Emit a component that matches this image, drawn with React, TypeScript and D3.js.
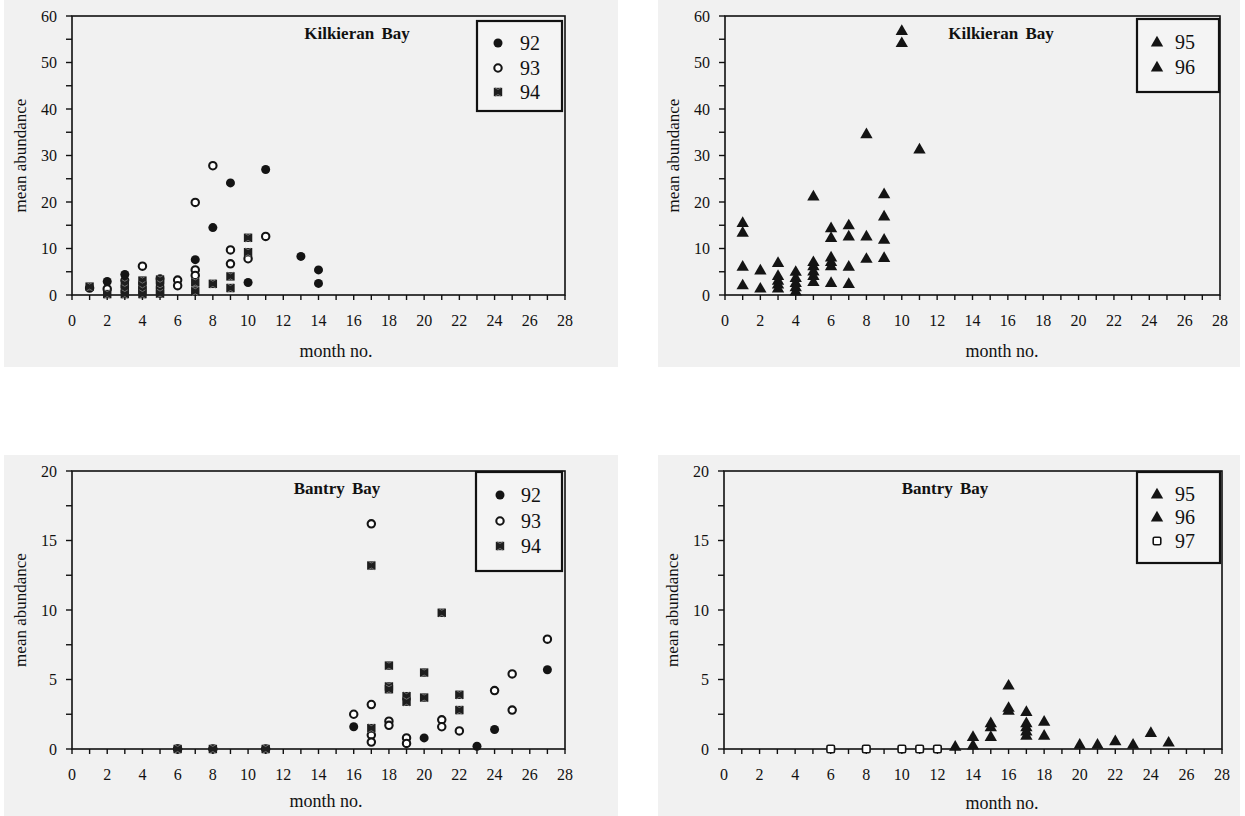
import React from 'react';
import * as d3 from 'd3';

type Pt = [number, number];

// Kilkieran Bay, years 92-94 (month no., mean abundance)
const kilk92: Pt[] = [[2, 2.9], [3, 4.4], [3, 3.2], [5, 3.5], [7, 7.6], [8, 14.5], [9, 24.1], [10, 2.7], [11, 27], [13, 8.3], [14, 5.4], [14, 2.5]];
const kilk93: Pt[] = [[1, 1.5], [2, 1.3], [4, 6.2], [6, 3.2], [6, 2.0], [7, 19.9], [7, 5.4], [7, 4.2], [8, 27.8], [9, 9.7], [9, 6.7], [10, 7.8], [11, 12.6]];
const kilk94: Pt[] = [[1, 1.8], [2, 0.2], [3, 2.4], [3, 1.3], [3, 0.2], [4, 3.1], [4, 2.0], [4, 1.0], [4, 0.2], [5, 3.3], [5, 2.2], [5, 1.0], [5, 0.3], [7, 2.7], [7, 0.8], [8, 2.4], [9, 4.0], [9, 1.5], [10, 12.3], [10, 9.2]];

// Kilkieran Bay, years 95-96
const kilk95: Pt[] = [[1, 15.6], [1, 6.2], [2, 5.4], [3, 7.0], [3, 3.2], [4, 5.1], [4, 2.7], [5, 21.3], [5, 6.3], [5, 4.2], [6, 14.5], [6, 8.2], [6, 6.3], [7, 15.1], [7, 6.2], [8, 34.7], [9, 21.8], [9, 12.0], [10, 56.9], [11, 31.4]];
const kilk96: Pt[] = [[1, 13.5], [1, 2.2], [2, 1.5], [3, 4.2], [3, 2.4], [3, 1.5], [4, 3.8], [4, 1.8], [4, 0.9], [5, 7.2], [5, 5.2], [5, 2.9], [6, 12.4], [6, 7.2], [6, 2.7], [7, 12.7], [7, 2.5], [8, 12.7], [8, 7.9], [9, 17.0], [9, 8.1], [10, 54.3]];

// Bantry Bay, years 92-94
const bant92: Pt[] = [[6, 0], [16, 1.6], [20, 0.8], [23, 0.2], [24, 1.4], [27, 5.7]];
const bant93: Pt[] = [[6, 0], [8, 0], [11, 0], [16, 2.5], [17, 16.2], [17, 3.2], [17, 1.0], [17, 0.5], [18, 2.0], [18, 1.7], [19, 0.8], [19, 0.4], [21, 2.1], [21, 1.6], [22, 1.3], [24, 4.2], [25, 5.4], [25, 2.8], [27, 7.9]];
const bant94: Pt[] = [[6, 0], [8, 0], [11, 0], [17, 13.2], [17, 1.5], [18, 6.0], [18, 4.5], [18, 4.3], [19, 3.8], [19, 3.4], [20, 5.5], [20, 3.7], [21, 9.8], [22, 3.9], [22, 2.8]];

// Bantry Bay, years 95-97
const bant95: Pt[] = [[13, 0.2], [14, 0.9], [15, 1.9], [15, 0.9], [16, 4.6], [16, 3.0], [17, 2.7], [17, 1.6], [17, 1.0], [18, 2.0], [20, 0.35], [22, 0.6], [24, 1.2]];
const bant96: Pt[] = [[14, 0.3], [15, 1.6], [16, 2.8], [17, 1.9], [17, 1.3], [18, 1.0], [21, 0.35], [23, 0.35], [25, 0.5]];
const bant97: Pt[] = [[6, 0], [8, 0], [10, 0], [11, 0], [12, 0]];

const xTicks = d3.range(0, 29, 2);

type Sym = 'dot' | 'ring' | 'star' | 'tri' | 'sq';
type Series = { name: string; sym: Sym; data: Pt[] };

type PanelCfg = {
  left: number; right: number; top: number; bottom: number;
  yMax: number; yStep: number; yLabelStep: number;
  title: string; titleX: number;
  series: Series[];
  legend: { x: number; y: number; w: number; h: number; mx: number; tx: number; rowY: number[] };
  xTitleY: number; xTitleX: number;
  bg: [number, number, number, number];
};

const Marker = ({ sym, x, y }: { sym: Sym; x: number; y: number }) => {
  const c = '#141414';
  if (sym === 'dot') return <circle cx={x} cy={y} r={4.5} fill={c} />;
  if (sym === 'ring') return <circle cx={x} cy={y} r={3.7} fill="#fff" stroke={c} strokeWidth={2.1} />;
  if (sym === 'tri') {
    const p = d3.symbol(d3.symbolTriangle, 66)();
    return <path d={p || ''} transform={`translate(${x},${y + 1})`} fill={c} />;
  }
  if (sym === 'sq') return <rect x={x - 3.8} y={y - 3.8} width={7.6} height={7.6} rx={1.5} fill="#fff" stroke={c} strokeWidth={1.6} />;
  return (
    <g transform={`translate(${x},${y})`}>
      <rect x={-4.2} y={-4.2} width={8.4} height={8.4} fill="#1e1e1e" />
      <path d="M-3,-4.2L0,-2.5L3,-4.2M-3,4.2L0,2.5L3,4.2" stroke="#777" strokeWidth={0.9} fill="none" />
    </g>
  );
};

const Panel = ({ cfg }: { cfg: PanelCfg }) => {
  const x = d3.scaleLinear().domain([0, 28]).range([cfg.left, cfg.right]);
  const y = d3.scaleLinear().domain([0, cfg.yMax]).range([cfg.bottom, cfg.top]);
  const yTicks = d3.range(0, cfg.yMax + 0.001, cfg.yStep);
  const monthTicks = d3.range(0, 29, 1);
  const font = '"Liberation Serif", "Times New Roman", serif';
  const lg = cfg.legend;
  const [bx, by, bw, bh] = cfg.bg;
  return (
    <g fontFamily={font}>
      <rect x={bx} y={by} width={bw} height={bh} fill="#f1f1f1" />
      {/* frame */}
      <rect x={cfg.left} y={cfg.top} width={cfg.right - cfg.left} height={cfg.bottom - cfg.top} fill="none" stroke="#111" strokeWidth={1.6} />
      {/* y ticks */}
      {yTicks.map(t => (
        <g key={'y' + t}>
          <line x1={cfg.left - 6} x2={cfg.left} y1={y(t)} y2={y(t)} stroke="#111" strokeWidth={1.4} />
          {Math.abs(t % cfg.yLabelStep) < 0.001 && (
            <text x={cfg.left - 15} y={y(t)} dy="0.35em" textAnchor="end" fontSize={16} fill="#111">{t}</text>
          )}
        </g>
      ))}
      {/* x ticks */}
      {monthTicks.map(t => (
        <line key={'xt' + t} x1={x(t)} x2={x(t)} y1={cfg.bottom} y2={cfg.bottom + 5} stroke="#111" strokeWidth={1.4} />
      ))}
      {xTicks.map(t => (
        <text key={'xl' + t} x={x(t)} y={cfg.bottom + 31} textAnchor="middle" fontSize={16} fill="#111">{t}</text>
      ))}
      <text x={cfg.xTitleX} y={cfg.xTitleY} textAnchor="middle" fontSize={18} fill="#111">month no.</text>
      <text transform={`translate(${cfg.left - 52},${(cfg.top + cfg.bottom) / 2}) rotate(-90)`} dy="0.35em" textAnchor="middle" fontSize={17} fill="#111">mean abundance</text>
      <text x={cfg.titleX} y={cfg.top + 23} textAnchor="middle" fontSize={17} fontWeight="bold" fill="#111" style={{ wordSpacing: '3px' }}>{cfg.title}</text>
      {/* points */}
      {cfg.series.map(s => s.data.map((d, i) => (
        <Marker key={s.name + i} sym={s.sym} x={x(d[0])} y={y(d[1])} />
      )))}
      {/* legend */}
      <rect x={lg.x} y={lg.y} width={lg.w} height={lg.h} fill="#f4f4f4" stroke="#111" strokeWidth={2.2} />
      {cfg.series.map((s, i) => (
        <g key={'lg' + s.name}>
          <Marker sym={s.sym} x={lg.mx} y={lg.rowY[i]} />
          <text x={lg.tx} y={lg.rowY[i]} dy="0.35em" fontSize={20} fill="#111">{s.name}</text>
        </g>
      ))}
    </g>
  );
};

const panels: PanelCfg[] = [
  {
    left: 72, right: 565, top: 16, bottom: 295, yMax: 60, yStep: 5, yLabelStep: 10,
    title: 'Kilkieran Bay', titleX: 357,
    series: [{ name: '92', sym: 'dot', data: kilk92 }, { name: '93', sym: 'ring', data: kilk93 }, { name: '94', sym: 'star', data: kilk94 }],
    legend: { x: 477, y: 21, w: 85, h: 90, mx: 498, tx: 520, rowY: [43, 68, 92] },
    xTitleX: 336, xTitleY: 357, bg: [4, 0, 614, 367],
  },
  {
    left: 725, right: 1220, top: 16, bottom: 295, yMax: 60, yStep: 5, yLabelStep: 10,
    title: 'Kilkieran Bay', titleX: 1001,
    series: [{ name: '95', sym: 'tri', data: kilk95 }, { name: '96', sym: 'tri', data: kilk96 }],
    legend: { x: 1137, y: 19, w: 82, h: 73, mx: 1157, tx: 1175, rowY: [42, 67] },
    xTitleX: 1002, xTitleY: 357, bg: [658, 0, 582, 367],
  },
  {
    left: 72, right: 565, top: 471, bottom: 749, yMax: 20, yStep: 2.5, yLabelStep: 5,
    title: 'Bantry Bay', titleX: 337,
    series: [{ name: '92', sym: 'dot', data: bant92 }, { name: '93', sym: 'ring', data: bant93 }, { name: '94', sym: 'star', data: bant94 }],
    legend: { x: 476, y: 472, w: 86, h: 99, mx: 500, tx: 521, rowY: [495, 521, 546] },
    xTitleX: 326, xTitleY: 807, bg: [4, 455, 614, 361],
  },
  {
    left: 724, right: 1222, top: 471, bottom: 749, yMax: 20, yStep: 2.5, yLabelStep: 5,
    title: 'Bantry Bay', titleX: 945,
    series: [{ name: '95', sym: 'tri', data: bant95 }, { name: '96', sym: 'tri', data: bant96 }, { name: '97', sym: 'sq', data: bant97 }],
    legend: { x: 1137, y: 472, w: 83, h: 91, mx: 1157, tx: 1175, rowY: [494, 517, 541] },
    xTitleX: 1002, xTitleY: 809, bg: [658, 455, 582, 361],
  },
];

export default function App() {
  return (
    <svg width={1245} height={816} style={{ position: 'absolute', left: 0, top: 0, background: '#fff' }}>
      {panels.map((p, i) => <Panel key={i} cfg={p} />)}
    </svg>
  );
}
